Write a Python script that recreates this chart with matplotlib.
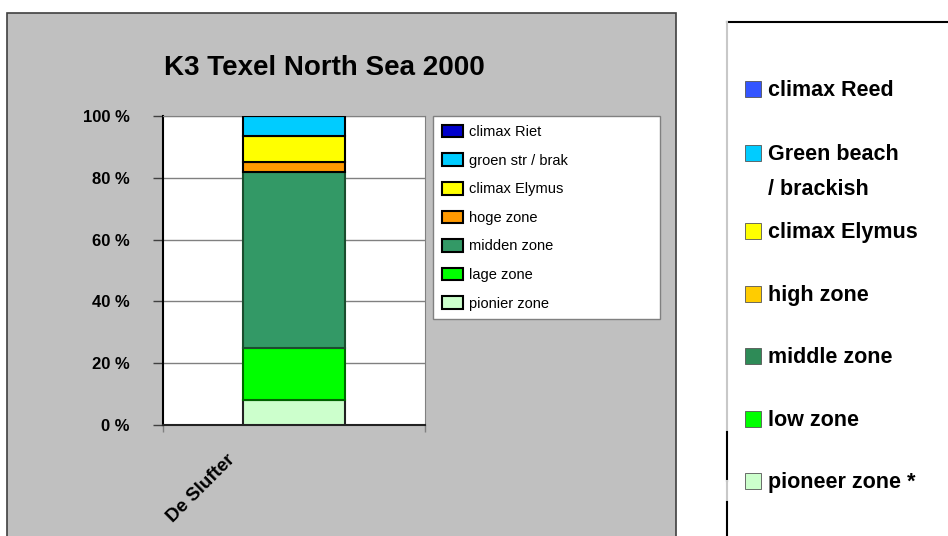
import matplotlib.pyplot as plt
import matplotlib.patches as mpatches
from matplotlib.lines import Line2D
import numpy as np

plt.rcParams['font.family'] = ['Liberation Sans', 'DejaVu Sans']

# data, bottom to top of the stacked bar
categories = ['De Slufter']
zones = ['pionier zone', 'lage zone', 'midden zone', 'hoge zone',
         'climax Elymus', 'groen str / brak', 'climax Riet']
shares = [8.0, 17.0, 57.0, 3.0, 8.5, 6.5, 0.0]
zone_colors = ['#ccffcc', '#00ff00', '#339966', '#ff9900',
               '#ffff00', '#00ccff', '#0000cc']
edge_colors = ['#222222', '#006600', '#1b4d2e', '#000000',
               '#000000', '#000000', '#000000']
yticks = [0, 20, 40, 60, 80, 100]
ytick_labels = ['0 %', '20 %', '40 %', '60 %', '80 %', '100 %']

# english legend on the right
en_labels = ['climax Reed', 'Green beach\n/ brackish', 'climax Elymus',
             'high zone', 'middle zone', 'low zone', 'pioneer zone *']
en_colors = ['#3355ff', '#00ccff', '#ffff00', '#ffcc00',
             '#2e8b57', '#00ff00', '#ccffcc']

W, H = 948, 536
fig = plt.figure(figsize=(W / 100, H / 100), dpi=100)
fig.patch.set_facecolor('white')

# grey chart panel
panel = mpatches.Rectangle((7 / W, -0.05), 669 / W, 1 - 13 / H + 0.05,
                           transform=fig.transFigure, facecolor='#c0c0c0',
                           edgecolor='#404040', linewidth=1.2, zorder=-5)
fig.patches.append(panel)

ax = fig.add_axes([163 / W, 1 - 425 / H, 262 / W, 309 / H])
ax.set_facecolor('white')

bottom = 0.0
for name, val, c, ec in zip(zones, shares, zone_colors, edge_colors):
    ax.bar([0], [val], bottom=bottom, width=0.393, color=c,
           edgecolor=ec, linewidth=1.5, label=name, zorder=3)
    bottom += val

ax.set_xlim(-0.5, 0.5)
ax.set_ylim(0, 100)
ax.set_yticks(yticks)
ax.set_yticklabels(ytick_labels, fontsize=12, fontweight='bold')
ax.tick_params(axis='y', length=7, width=1, color='#404040', pad=17)
ax.set_xticks([-0.5, 0.5])
ax.set_xticklabels([])
ax.tick_params(axis='x', length=5, width=1, color='#808080')
ax.yaxis.grid(True, color='#808080', linewidth=1, zorder=1)
ax.set_axisbelow(True)
ax.spines['left'].set_color('black')
ax.spines['left'].set_linewidth(1.5)
ax.spines['bottom'].set_color('#222222')
ax.spines['bottom'].set_linewidth(1.5)
ax.spines['top'].set_color('#808080')
ax.spines['right'].set_color('#808080')

fig.text(324 / W, 1 - 68 / H, 'K3 Texel North Sea 2000', fontsize=20,
         fontweight='bold', ha='center', va='center')

fig.text(226 / W, 1 - 451 / H, categories[0], fontsize=13.5,
         fontweight='bold', rotation=45, rotation_mode='anchor',
         ha='right', va='top')

handles = [mpatches.Patch(facecolor=c, edgecolor='black', linewidth=1.5)
           for c in zone_colors]
leg = fig.legend(handles[::-1], zones[::-1], loc='upper left',
                 bbox_to_anchor=(433 / W, 1 - 320 / H, 227 / W, 204 / H),
                 mode='expand', fontsize=10.5,
                 frameon=True, fancybox=False, framealpha=1,
                 edgecolor='#808080', handlelength=1.45, handleheight=0.95,
                 handletextpad=0.45, labelspacing=0.98, borderpad=0.6,
                 borderaxespad=0)
leg.get_frame().set_linewidth(1)

# right legend box
fig.add_artist(Line2D([727 / W, 1], [1 - 22 / H] * 2, color='black',
                      linewidth=1.5, transform=fig.transFigure))
fig.add_artist(Line2D([727 / W] * 2, [1 - 22 / H, 1 - 432 / H],
                      color='#c8c8c8', linewidth=1.5, transform=fig.transFigure))
fig.add_artist(Line2D([727 / W] * 2, [1 - 432 / H, 1 - 481 / H],
                      color='black', linewidth=1.5, transform=fig.transFigure))
fig.add_artist(Line2D([727 / W] * 2, [1 - 481 / H, 1 - 502 / H],
                      color='#c8c8c8', linewidth=1.5, transform=fig.transFigure))
fig.add_artist(Line2D([727 / W] * 2, [1 - 502 / H, 0],
                      color='black', linewidth=1.5, transform=fig.transFigure))

y = 89
for lab, c in zip(en_labels, en_colors):
    sq = mpatches.Rectangle((745 / W, 1 - (y + 8) / H), 16 / W, 16 / H,
                            transform=fig.transFigure, facecolor=c,
                            edgecolor='#555555', linewidth=0.6)
    fig.patches.append(sq)
    extra = 35 * lab.count('\n')
    fig.text(768 / W, 1 - (y + 7 + extra) / H, lab, fontsize=15.5,
             fontweight='bold', ha='left', va='baseline', linespacing=1.87)
    y += 78 if '\n' in lab else (64 if y < 100 else 62.5)

fig.savefig('out.png', dpi=100, facecolor=fig.get_facecolor())
